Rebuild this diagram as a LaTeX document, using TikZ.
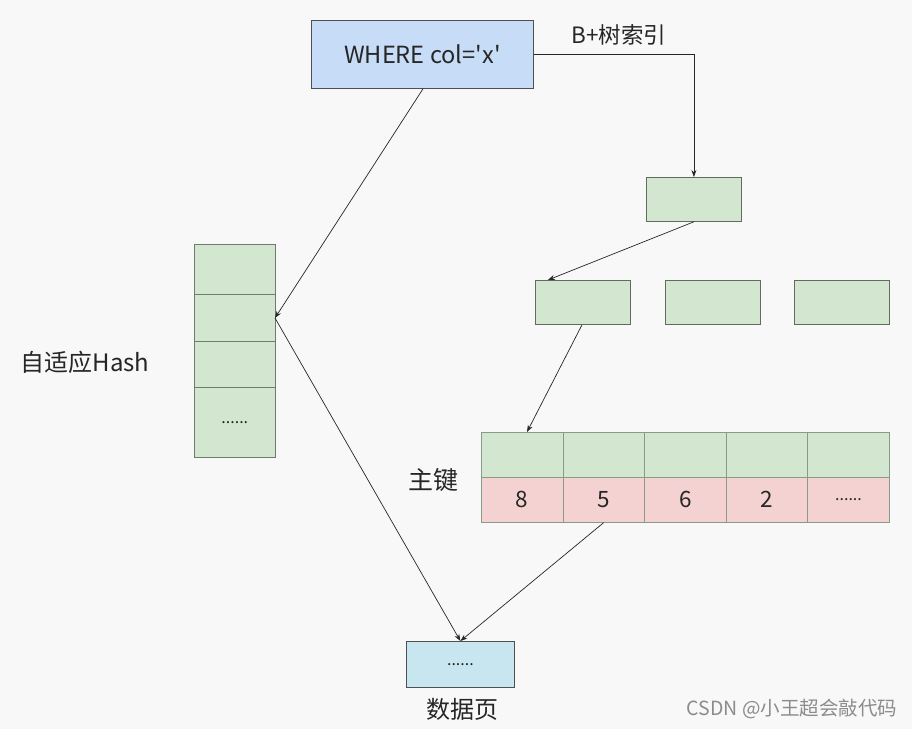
\documentclass[tikz,border=0pt]{standalone}
\usepackage{fontspec}
\setmainfont{Noto Sans CJK SC}
\newfontfamily\plainf{Noto Sans CJK SC}[Ligatures=ResetAll]
\usetikzlibrary{arrows.meta}
\definecolor{bgc}{HTML}{F8F8F8}
\definecolor{bluef}{HTML}{C7DCF7}
\definecolor{greenf}{HTML}{D3E6CF}
\definecolor{pinkf}{HTML}{F4D2D2}
\definecolor{pagef}{HTML}{C7E6F0}
\definecolor{edgec}{HTML}{505050}
\definecolor{gridc}{HTML}{8A9A88}
\definecolor{txt}{HTML}{262626}
\newcommand{\sixdots}{......}
\begin{document}
\begin{tikzpicture}[x=1pt,y=-1pt,
  box/.style={draw=edgec,line width=0.8pt,inner sep=0pt,anchor=north west},
  gbox/.style={box,fill=greenf,draw=gridc!70!black},
  cell/.style={draw=gridc,line width=0.6pt,inner sep=0pt,anchor=north west,minimum width=81.6pt,minimum height=45pt,font=\fontsize{22.5}{22.5}\selectfont,text=txt},
  lab/.style={font=\fontsize{24}{24}\selectfont,text=txt,inner sep=0pt},
  conn/.style={draw=black!85,line width=0.7pt,-{Stealth[length=7pt,width=5pt]}}]
\useasboundingbox (0,0) rectangle (912,729);
\fill[bgc] (0,0) rectangle (912,729);
% query box
\node[box,fill=bluef,minimum width=222pt,minimum height=68pt,font=\plainf\fontsize{23.6}{23.6}\selectfont,text=txt] (q) at (311,20) {WHERE col='x'};
\node[lab,font=\fontsize{22.5}{22.5}\selectfont] (bt) at (619,35) {B+树索引};
% B+ tree nodes
\node[gbox,minimum width=95pt,minimum height=44pt] (r) at (646,177) {};
\node[gbox,minimum width=95pt,minimum height=44pt] (l1) at (535,280) {};
\node[gbox,minimum width=95pt,minimum height=44pt] (l2) at (665,280) {};
\node[gbox,minimum width=95pt,minimum height=44pt] (l3) at (794,280) {};
% key table
\node[cell,fill=greenf] (k0) at (481,432) {};
\node[cell,fill=greenf] (k1) at (562.6,432) {};
\node[cell,fill=greenf] (k2) at (644.2,432) {};
\node[cell,fill=greenf] (k3) at (725.8,432) {};
\node[cell,fill=greenf] (k4) at (807.4,432) {};
\node[cell,fill=pinkf] (p0) at (481,477) {8};
\node[cell,fill=pinkf] (p1) at (562.6,477) {5};
\node[cell,fill=pinkf] (p2) at (644.2,477) {6};
\node[cell,fill=pinkf] (p3) at (725.8,477) {2};
\node[cell,fill=pinkf,font=\fontsize{16}{16}\selectfont] (p4) at (807.4,477) {\sixdots};
\node[lab,font=\fontsize{25}{25}\selectfont] (zj) at (433,480) {主键};
% hash column
\node[cell,fill=greenf,minimum width=81pt,minimum height=50pt,draw=gridc!80!black] (h0) at (194,244) {};
\node[cell,fill=greenf,minimum width=81pt,minimum height=47pt,draw=gridc!80!black] (h1) at (194,294) {};
\node[cell,fill=greenf,minimum width=81pt,minimum height=46pt,draw=gridc!80!black] (h2) at (194,341) {};
\node[cell,fill=greenf,minimum width=81pt,minimum height=70pt,draw=gridc!80!black,font=\fontsize{16}{16}\selectfont] (h3) at (194,387) {\sixdots};
\node[lab] (hl) at (85,362) {自适应Hash};
% data page
\node[box,fill=pagef,minimum width=108pt,minimum height=46pt,font=\fontsize{16}{16}\selectfont,text=txt] (dp) at (406,641) {\sixdots};
\node[lab] (dl) at (462,709) {数据页};
% watermark
\node[lab,font=\fontsize{19.5}{19.5}\selectfont,text=black!45] (wm) at (792,709) {CSDN @小王超会敲代码};
% connectors
\coordinate (hin) at (275,318);
\draw[conn] (q.east) -| (r.north);
\draw[conn] (r.south) -- ([xshift=-35pt]l1.north);
\draw[conn] ([xshift=47pt]l1.south west) -- ([xshift=46pt]k0.north west);
\draw[conn] ([xshift=112pt]q.south west) -- (hin);
\draw[conn] (hin) -- (dp.north);
\draw[conn] (p1.south) -- (dp.north);
\end{tikzpicture}
\end{document}
